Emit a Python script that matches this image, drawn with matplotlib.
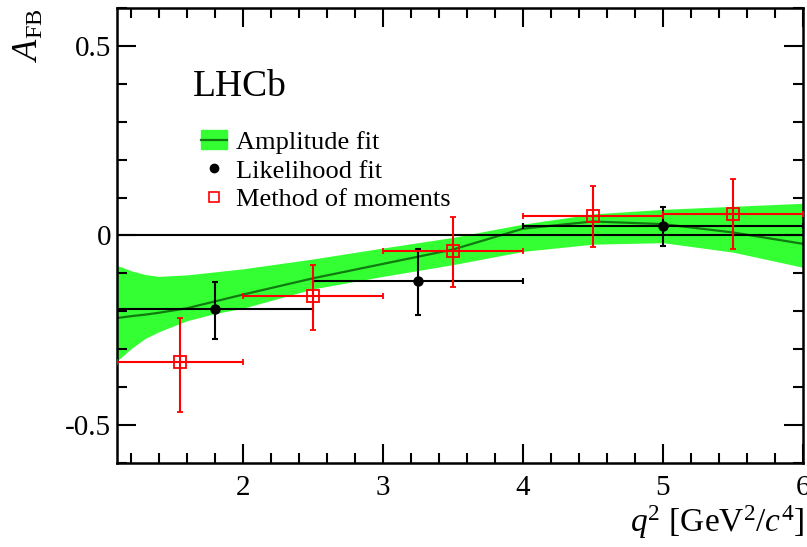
import matplotlib
matplotlib.use("Agg")
import matplotlib.pyplot as plt
from matplotlib.patches import Patch
from matplotlib.lines import Line2D
from matplotlib.ticker import MultipleLocator, FuncFormatter
import numpy as np

plt.rcParams['font.family'] = 'Liberation Serif'
plt.rcParams['mathtext.fontset'] = 'custom'
plt.rcParams['mathtext.rm'] = 'Liberation Serif'
plt.rcParams['mathtext.it'] = 'Liberation Serif:italic'
plt.rcParams['axes.unicode_minus'] = False

# amplitude fit: central value and error band
fit_q2 = [1.1, 1.2, 1.3, 1.4, 1.6, 1.8, 2.0, 2.5, 3.0, 3.5, 4.0, 4.5, 5.0, 5.5, 6.0]
fit_hi = [-0.079, -0.093, -0.103, -0.108, -0.104, -0.096, -0.088, -0.062, -0.033,
          -0.005, 0.030, 0.057, 0.069, 0.077, 0.085]
fit_lo = [-0.331, -0.299, -0.272, -0.254, -0.225, -0.206, -0.192, -0.141, -0.108,
          -0.077, -0.042, -0.023, -0.019, -0.044, -0.084]
fit_mid = [-0.218, -0.213, -0.209, -0.204, -0.192, -0.174, -0.156, -0.113, -0.075,
           -0.037, 0.018, 0.037, 0.030, 0.008, -0.022]

# likelihood fit
lik_q2 = [1.8, 3.25, 5.0]
lik_bin_lo = [1.0, 2.5, 4.0]
lik_bin_hi = [2.5, 4.0, 6.0]
lik_afb = [-0.194, -0.119, 0.024]
lik_up = [0.070, 0.082, 0.051]
lik_dn = [0.080, 0.090, 0.052]

# method of moments
mom_q2 = [1.55, 2.5, 3.5, 4.5, 5.5]
mom_bin_lo = [1.1, 2.0, 3.0, 4.0, 5.0]
mom_bin_hi = [2.0, 3.0, 4.0, 5.0, 6.0]
mom_afb = [-0.335, -0.160, -0.042, 0.051, 0.056]
mom_up = [0.116, 0.081, 0.090, 0.079, 0.094]
mom_dn = [0.131, 0.089, 0.093, 0.081, 0.091]

band_col = '#33ff33'
line_col = '#107a10'

fig = plt.figure(figsize=(8.07, 5.47), dpi=100)
ax = fig.add_axes([0.145, 0.154, 0.850, 0.831])

ax.fill_between(fit_q2, fit_lo, fit_hi, color=band_col, lw=0, zorder=1)
ax.plot(fit_q2, fit_mid, color=line_col, lw=1.6, zorder=2)
ax.axhline(0, color='black', lw=1.5, zorder=3)

lx = np.array(lik_q2)
ax.errorbar(lik_q2, lik_afb,
            xerr=[lx - np.array(lik_bin_lo), np.array(lik_bin_hi) - lx],
            yerr=[lik_dn, lik_up], fmt='o', color='black', ms=6.5,
            elinewidth=1.5, capsize=2.5, capthick=1.5, zorder=4)

mx = np.array(mom_q2)
ax.errorbar(mom_q2, mom_afb,
            xerr=[mx - np.array(mom_bin_lo), np.array(mom_bin_hi) - mx],
            yerr=[mom_dn, mom_up], fmt='s', color='red', mfc='none', mec='red',
            mew=1.3, ms=9, elinewidth=1.5, capsize=2.5, capthick=1.5, zorder=5)

ax.set_xlim(1.1, 6.0)
ax.set_ylim(-0.6, 0.6)
ax.xaxis.set_major_locator(MultipleLocator(1))
ax.xaxis.set_minor_locator(MultipleLocator(0.2))
ax.yaxis.set_major_locator(MultipleLocator(0.5))
ax.yaxis.set_minor_locator(MultipleLocator(0.1))
ax.yaxis.set_major_formatter(FuncFormatter(lambda v, p: '0' if abs(v) < 1e-9 else '%g' % v))
ax.tick_params(which='both', direction='in', top=True, right=True, width=1.5, labelsize=21)
ax.tick_params(which='major', length=14)
ax.tick_params(which='minor', length=7)
ax.tick_params(axis='x', pad=9)
ax.tick_params(axis='y', pad=4)
for s in ax.spines.values():
    s.set_linewidth(1.8)

ax.text(0.111, 0.807, 'LHCb', transform=ax.transAxes, fontsize=27, va='baseline')

h_fit = (Patch(color=band_col), Line2D([], [], color=line_col, lw=1.6))
h_lik = Line2D([], [], marker='o', color='black', ls='none', ms=6)
h_mom = Line2D([], [], marker='s', color='red', mfc='none', ls='none', ms=7.5, mew=1.2)
ax.legend([h_fit, h_lik, h_mom], ['Amplitude fit', 'Likelihood fit', 'Method of moments'],
          loc='upper left', bbox_to_anchor=(0.122, 0.731), frameon=False, fontsize=19,
          handlelength=1.0, handletextpad=0.35, labelspacing=0.2, borderpad=0,
          borderaxespad=0)

fig.text(0.036, 0.985, r'$A_{\rm FB}$', rotation=90, ha='center', va='top', fontsize=25)
fig.text(0.997, 0.028, r'$q^2$ [GeV$^2$/$c^4$]', ha='right', va='baseline', fontsize=24)

fig.savefig('out.png', dpi=100)
